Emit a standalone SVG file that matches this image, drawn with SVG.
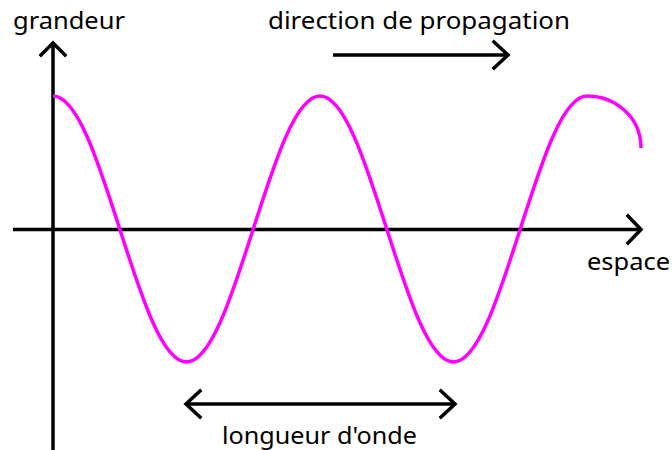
<svg xmlns="http://www.w3.org/2000/svg" width="672" height="450" viewBox="0 0 672 450">
  <style>
    .axis { stroke: #000; stroke-width: 3.5; fill: none; stroke-linecap: butt; }
    .head { stroke: #000; stroke-width: 3.5; fill: none; stroke-linecap: square; stroke-linejoin: miter; }
    .wave { stroke: #ff00ff; stroke-width: 3.5; fill: none; }
    .lbl { font-family: "Comic Sans MS", "Noto Sans", "DejaVu Sans", sans-serif; font-size: 23px; fill: #000; }
  </style>
  <rect width="672" height="450" fill="#fff"/>
  <g id="connectors">
    <g id="axis-y">
      <line class="axis" x1="53" y1="43" x2="53" y2="450"/>
      <polyline class="head" points="41,55 53,43 65,55"/>
    </g>
    <g id="axis-x">
      <line class="axis" x1="13" y1="229.5" x2="641" y2="229.5"/>
      <polyline class="head" points="628,216 641,229.5 628,243"/>
    </g>
    <g id="propagation-arrow">
      <line class="axis" x1="333" y1="55" x2="508" y2="55"/>
      <polyline class="head" points="494,42 508,55 494,68"/>
    </g>
    <g id="wavelength-arrow">
      <line class="axis" x1="186" y1="404" x2="455" y2="404"/>
      <polyline class="head" points="200,391 186,404 200,417"/>
      <polyline class="head" points="441,391 455,404 441,417"/>
    </g>
  </g>
  <g id="wave">
    <path class="wave" d="M53,96 C77.16,96 97.98,160.87 119.75,229 C141.52,297.13 162.34,362 186.5,362 C210.66,362 231.48,297.13 253.25,229 C275.02,160.87 295.84,96 320,96 C344.16,96 364.98,160.87 386.75,229 C408.52,297.13 429.34,362 453.5,362 C477.66,362 498.48,297.13 520.25,229 C542.02,160.87 562.84,96 587,96 C614,96 641,116 641,148"/>
  </g>
  <g id="label-grandeur"><text class="lbl" x="13" y="29" textLength="112" lengthAdjust="spacingAndGlyphs">grandeur</text></g>
  <g id="label-direction"><text class="lbl" x="268" y="29" textLength="302" lengthAdjust="spacingAndGlyphs">direction de propagation</text></g>
  <g id="label-espace"><text class="lbl" x="587" y="270" textLength="83" lengthAdjust="spacingAndGlyphs">espace</text></g>
  <g id="label-longueur"><text class="lbl" x="222" y="444" textLength="195" lengthAdjust="spacingAndGlyphs">longueur d'onde</text></g>
</svg>
